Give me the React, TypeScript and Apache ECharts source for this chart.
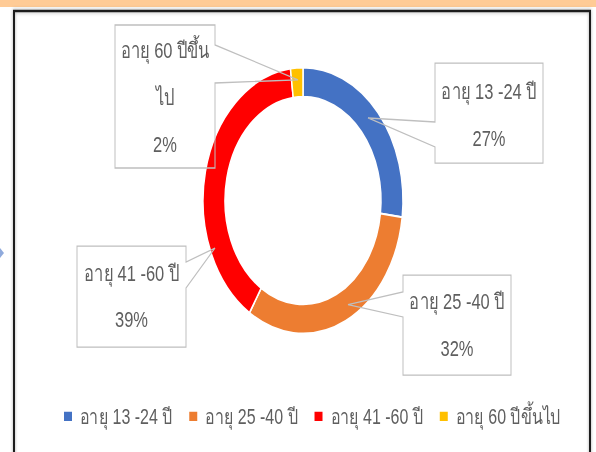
import React, { useEffect, useRef } from "react";
import * as echarts from "echarts";

// ---- data ----
const categories = ["อายุ 13 -24 ปี", "อายุ 25 -40 ปี", "อายุ 41 -60 ปี", "อายุ 60 ปีขึ้นไป"];
const values = [27, 32, 39, 2];
const labelNames = ["อายุ 13 -24 ปี", "อายุ 25 -40 ปี", "อายุ 41 -60 ปี", "อายุ 60 ปีขึ้น\nไป"];
const colors = ["#4472C4", "#ED7D31", "#FF0000", "#FFC000"];

// ---- layout (unscaled coordinates; whole chart is stretched vertically) ----
const W = 596;
const SY = 1.33;
const H = 452 / SY;
const FONT = 'Arial, "Liberation Sans", "Noto Sans", sans-serif';
const TEXT_COLOR = "#5f5f5f";

// label anchor (text block centre) per slice
const labelPos = [
  [489, 86],
  [457, 244],
  [131.5, 222.5],
  [165, 73],
];
// callout boxes: x, y, w, h, side, pointer y1, y2, tip x, tip y
const callouts = [
  { x: 435, y: 47.4, w: 108, h: 75.2, side: "left", y1: 91.7, y2: 110.5, tx: 368, ty: 88.7 },
  { x: 403, y: 206.8, w: 108, h: 75.2, side: "left", y1: 219.5, y2: 238.3, tx: 348, ty: 229 },
  { x: 77, y: 185, w: 109, h: 76, side: "right", y1: 197, y2: 216.5, tx: 215, ty: 186.5 },
  { x: 115, y: 18.8, w: 100, h: 107.5, side: "right", y1: 33.8, y2: 62.4, tx: 298, ty: 60 },
];

function calloutPoints(c: any) {
  const { x, y, w, h, y1, y2, tx, ty } = c;
  if (c.side === "left") {
    return [[x, y], [x + w, y], [x + w, y + h], [x, y + h], [x, y2], [tx, ty], [x, y1]];
  }
  return [[x, y], [x + w, y], [x + w, y1], [tx, ty], [x + w, y2], [x + w, y + h], [x, y + h]];
}

export default function App() {
  const ref = useRef<HTMLDivElement>(null);
  useEffect(() => {
    if (!ref.current) return;
    const chart = echarts.init(ref.current, null, { renderer: "svg" });
    const graphics: any[] = [
      { type: "rect", shape: { x: 0, y: 0, width: W, height: 5.3 }, style: { fill: "#FFCB96" }, z: 1 },
      {
        type: "rect",
        shape: { x: 14, y: 8.3, width: 576, height: 400 },
        style: { fill: "none", stroke: "#1f1f1f", lineWidth: 2, shadowBlur: 3, shadowColor: "rgba(0,0,0,0.35)" },
        z: 1,
      },
      {
        type: "polygon",
        shape: { points: [[0, 186.5], [4, 190.2], [0, 194]] },
        style: { fill: "#8FAADC" },
        z: 1,
      },
    ];
    callouts.forEach((c) => {
      graphics.push({
        type: "polygon",
        shape: { points: calloutPoints(c) },
        style: { fill: "rgba(255,255,255,0)", stroke: "#BFBFBF", lineWidth: 1 },
        z: 10,
      });
    });

    chart.setOption({
      animation: false,
      color: colors,
      legend: {
        data: categories,
        left: 57,
        top: 300,
        icon: "rect",
        itemWidth: 10,
        itemHeight: 9,
        itemGap: 15,
        textStyle: { color: TEXT_COLOR, fontSize: 16, fontFamily: FONT, padding: [0, 0, 0, 2] },
      },
      graphic: graphics,
      series: [
        {
          type: "pie",
          center: [303, 150.8],
          radius: [78, 100],
          startAngle: 90,
          clockwise: true,
          percentPrecision: 0,
          itemStyle: { borderColor: "#ffffff", borderWidth: 1.5 },
          label: {
            show: true,
            position: "outside",
            formatter: (p: any) => labelNames[p.dataIndex] + "\n" + p.percent + "%",
            color: TEXT_COLOR,
            fontSize: 16.5,
            fontFamily: FONT,
            lineHeight: 35,
            align: "center",
          },
          labelLine: { show: false },
          labelLayout: (params: any) => {
            const pos = labelPos[params.dataIndex];
            return { x: pos[0], y: pos[1], align: "center", verticalAlign: "middle" };
          },
          emphasis: { disabled: true },
          data: categories.map((name, i) => ({ name, value: values[i] })),
        },
      ],
    });
    return () => chart.dispose();
  }, []);

  return (
    <div
      style={{
        position: "absolute",
        left: 0,
        top: 0,
        width: W,
        height: 452,
        overflow: "hidden",
        background: "#ffffff",
      }}
    >
      <div
        ref={ref}
        style={{
          width: W,
          height: H,
          transform: `scaleY(${SY})`,
          transformOrigin: "0 0",
        }}
      />
    </div>
  );
}
